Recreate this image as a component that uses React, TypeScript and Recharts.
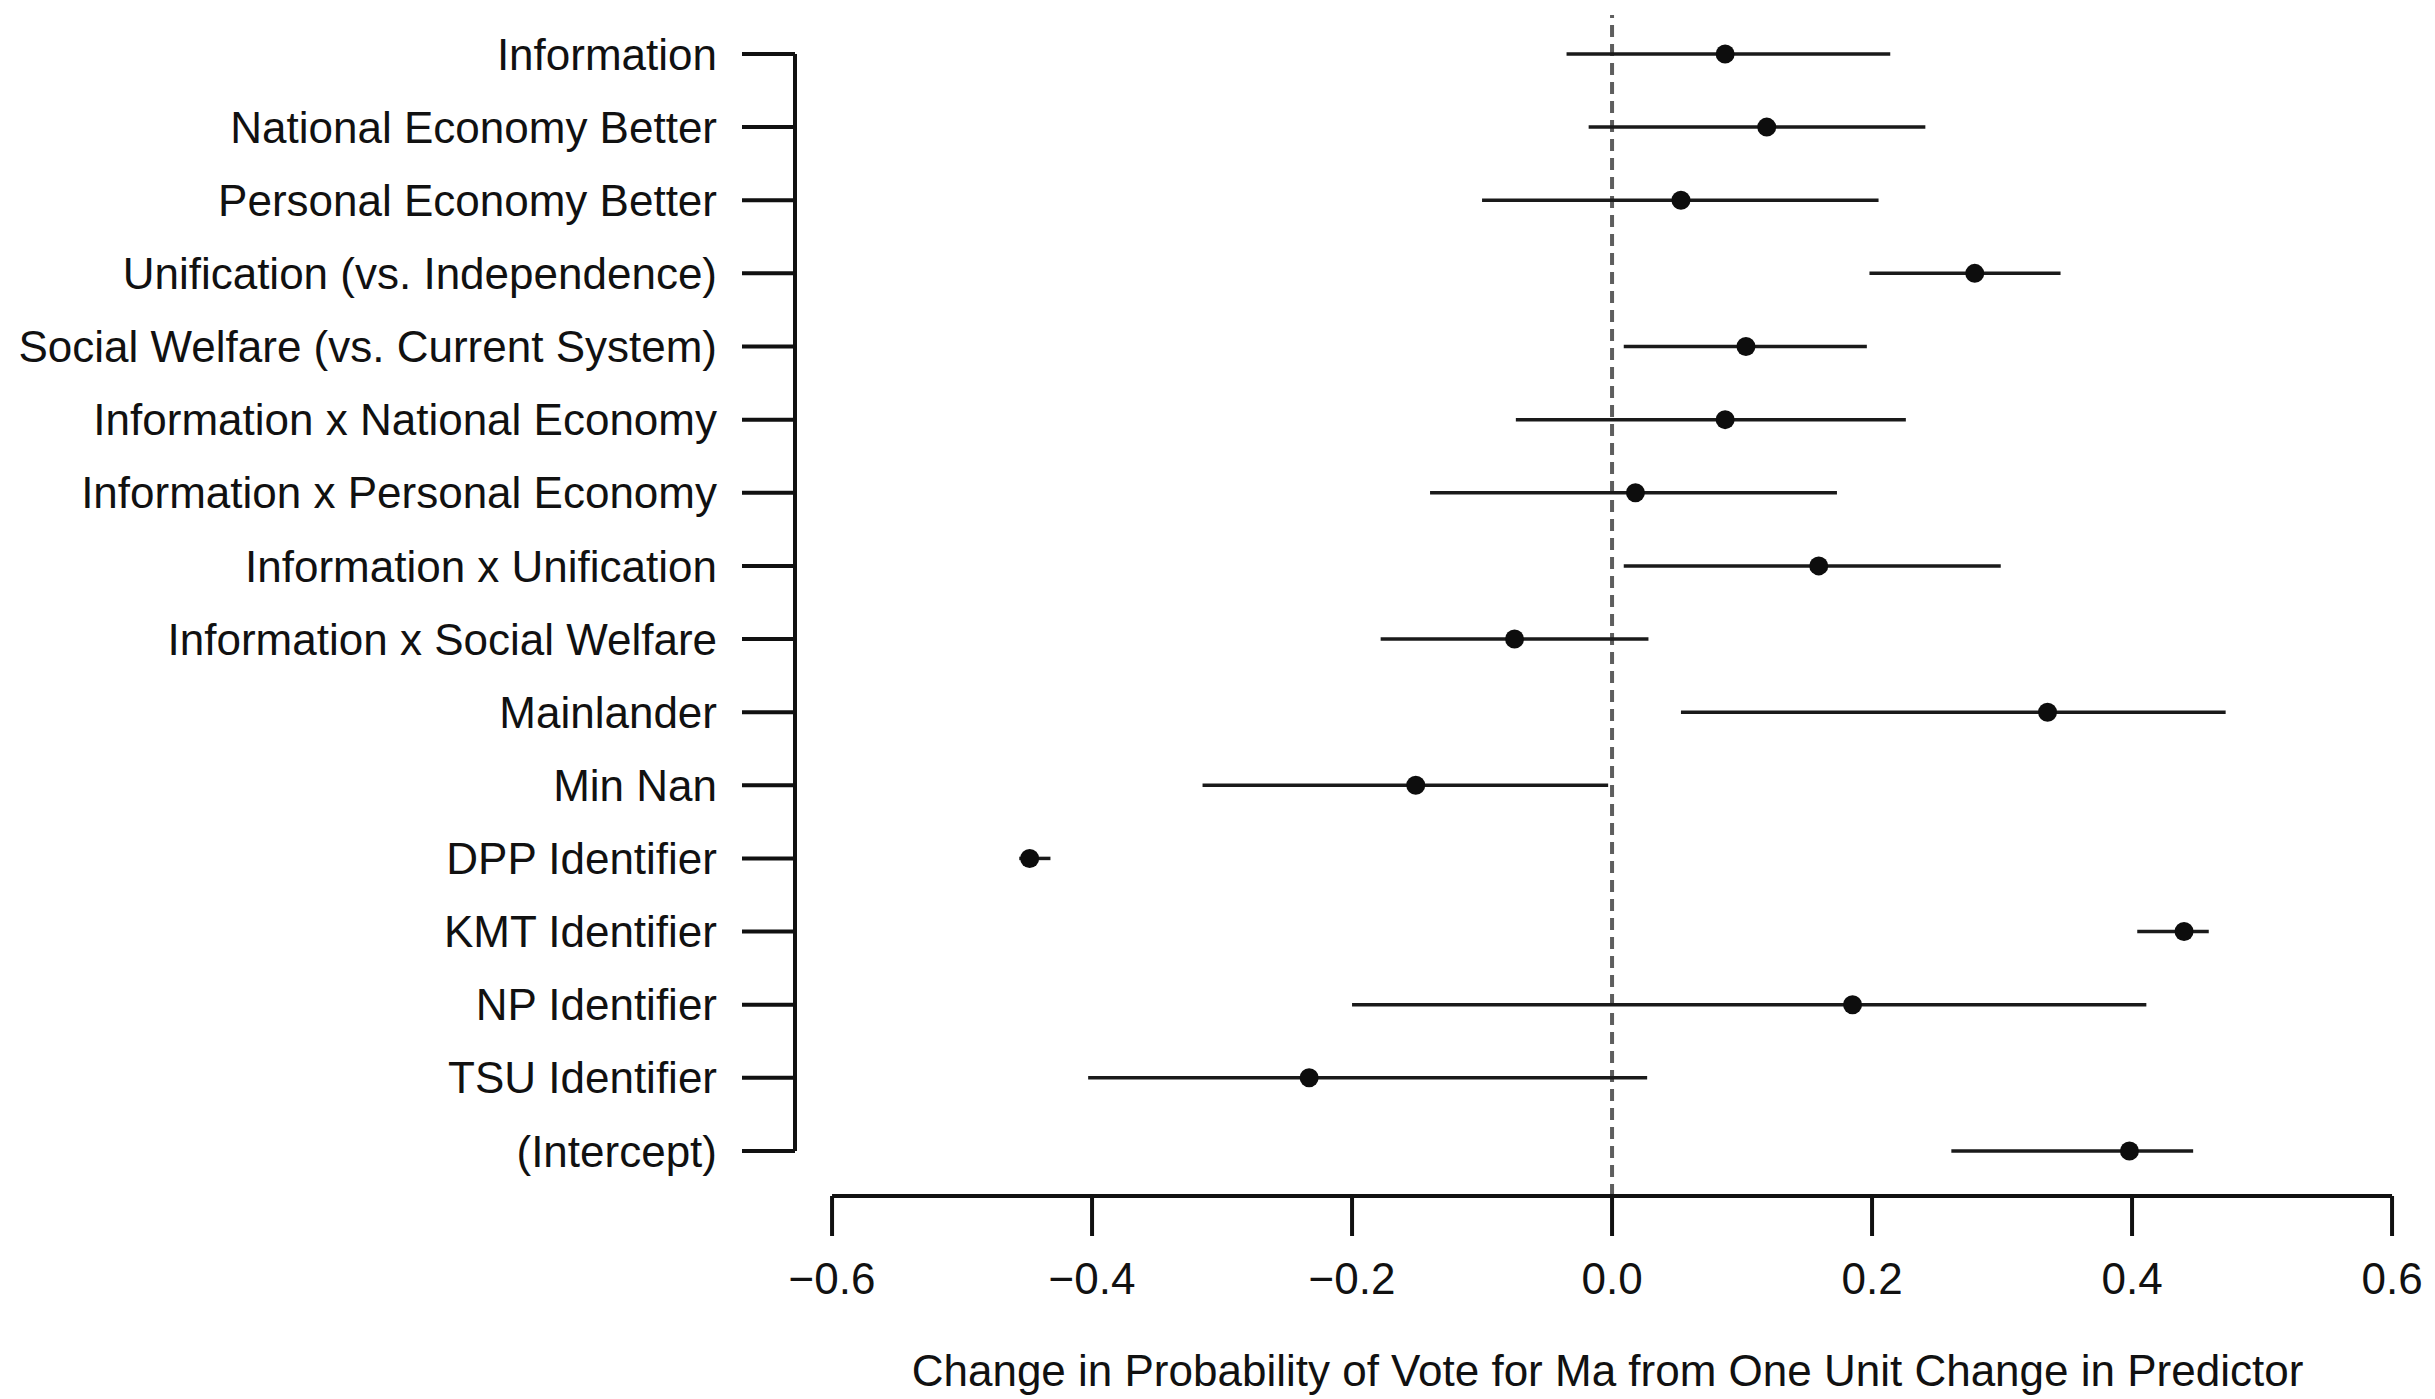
import { ScatterChart, Scatter, XAxis, YAxis, ErrorBar, ReferenceLine } from 'recharts';

const predictors = [
  'Information',
  'National Economy Better',
  'Personal Economy Better',
  'Unification (vs. Independence)',
  'Social Welfare (vs. Current System)',
  'Information x National Economy',
  'Information x Personal Economy',
  'Information x Unification',
  'Information x Social Welfare',
  'Mainlander',
  'Min Nan',
  'DPP Identifier',
  'KMT Identifier',
  'NP Identifier',
  'TSU Identifier',
  '(Intercept)',
];

const estimates = [0.087, 0.119, 0.053, 0.279, 0.103, 0.087, 0.018, 0.159, -0.075, 0.335, -0.151, -0.448, 0.44, 0.185, -0.233, 0.398];
const lower = [-0.035, -0.018, -0.1, 0.198, 0.009, -0.074, -0.14, 0.009, -0.178, 0.053, -0.315, -0.456, 0.404, -0.2, -0.403, 0.261];
const upper = [0.214, 0.241, 0.205, 0.345, 0.196, 0.226, 0.173, 0.299, 0.028, 0.472, -0.003, -0.432, 0.459, 0.411, 0.027, 0.447];

const xTicks = [-0.6, -0.4, -0.2, 0, 0.2, 0.4, 0.6];
const rowTicks = predictors.map((_, i) => i + 1);

const rows = predictors.map((name, i) => ({
  name,
  row: i + 1,
  est: estimates[i],
  ci: [estimates[i] - lower[i], upper[i] - estimates[i]],
}));

const X_MIN = -0.6285;
const X_MAX = 0.6215;
const Y_TOP = 0.467;
const Y_BOTTOM = 16.616;

const font = '"Liberation Sans", Arial, Helvetica, sans-serif';
const ink = '#111';

const fmtX = (v: number) => (v === 0 ? '0.0' : (v < 0 ? '\u2212' : '') + Math.abs(v).toFixed(1));

const Dot = (props: any) => <circle cx={props.cx} cy={props.cy} r={9.5} fill="#0d0d0d" />;

export default function App() {
  return (
    <div style={{ position: 'absolute', left: 0, top: 0, width: 2435, height: 1399, background: '#fff', fontFamily: font }}>
      <ScatterChart width={2435} height={1399} margin={{ top: 15, right: 15, bottom: 0, left: 0 }}>
        <XAxis
          type="number"
          dataKey="est"
          domain={[X_MIN, X_MAX]}
          ticks={xTicks}
          interval={0}
          allowDataOverflow
          tickFormatter={fmtX}
          axisLine={false}
          tickLine={{ stroke: ink, strokeWidth: 4 }}
          tickSize={40}
          tickMargin={27}
          height={203}
          tick={{ fontSize: 44, fill: ink, fontFamily: font }}
          label={{
            value: 'Change in Probability of Vote for Ma from One Unit Change in Predictor',
            position: 'insideBottom',
            offset: 13,
            fontSize: 44,
            fill: ink,
            fontFamily: font,
          }}
        />
        <YAxis
          type="number"
          dataKey="row"
          domain={[Y_TOP, Y_BOTTOM]}
          reversed
          ticks={rowTicks}
          interval={0}
          allowDataOverflow
          tickFormatter={(v: number) => predictors[v - 1]}
          axisLine={false}
          tickLine={{ stroke: ink, strokeWidth: 4 }}
          tickSize={53}
          tickMargin={25}
          width={795}
          tick={{ fontSize: 44, fill: ink, fontFamily: font }}
        />
        <ReferenceLine x={0} stroke="#5e5e5e" strokeWidth={4} strokeDasharray="12 7" />
        <ReferenceLine
          segment={[{ x: X_MIN, y: 1 }, { x: X_MIN, y: predictors.length }]}
          stroke={ink}
          strokeWidth={4}
        />
        <ReferenceLine
          segment={[{ x: xTicks[0], y: Y_BOTTOM }, { x: xTicks[xTicks.length - 1], y: Y_BOTTOM }]}
          stroke={ink}
          strokeWidth={4}
        />
        <Scatter data={rows} shape={Dot} isAnimationActive={false}>
          <ErrorBar dataKey="ci" direction="x" width={0} stroke="#1a1a1a" strokeWidth={3.5} isAnimationActive={false} />
        </Scatter>
      </ScatterChart>
    </div>
  );
}
